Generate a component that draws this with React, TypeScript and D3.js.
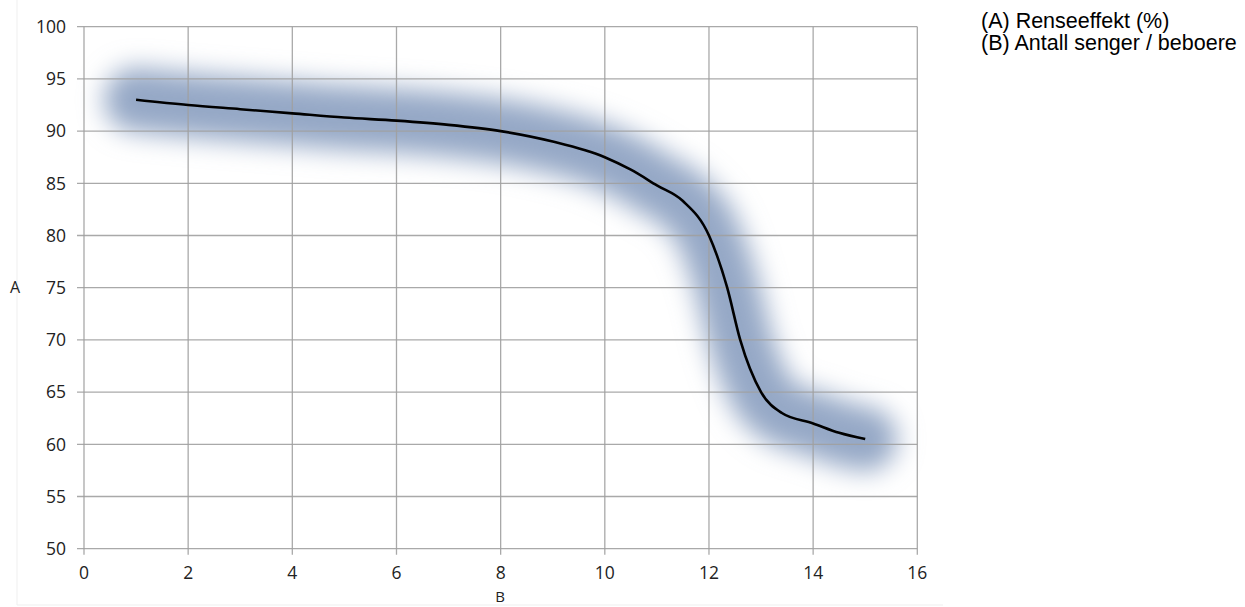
import React from "react";
import * as d3 from "d3";

const xVals = [1, 2, 3, 4, 5, 6, 7, 8, 9, 10, 10.5, 11, 11.5, 12, 12.35, 12.6, 13, 13.4, 14, 14.5, 15];
const yVals = [93, 92.5, 92.1, 91.7, 91.3, 91, 90.6, 90, 89, 87.5, 86.3, 84.8, 83.3, 80, 75, 70, 65, 63, 62, 61.1, 60.5];
const xTicks = [0, 2, 4, 6, 8, 10, 12, 14, 16];
const yTicks = [50, 55, 60, 65, 70, 75, 80, 85, 90, 95, 100];
const legendLines = ["(A) Renseeffekt (%)", "(B) Antall senger / beboere"];
const xLabel = "B";
const yLabel = "A";

export default function App() {
  const W = 1245, H = 607;
  const x = d3.scaleLinear().domain([0, 16]).range([84, 917.3]);
  const y = d3.scaleLinear().domain([50, 100]).range([548.7, 26.7]);
  const pts: [number, number][] = xVals.map((v, i) => [v, yVals[i]]);
  const line = d3.line<[number, number]>().x(d => x(d[0])).y(d => y(d[1])).curve(d3.curveMonotoneX);
  const path = line(pts) || "";
  const grid = "#a0a0a0";
  const font = "'Open Sans', sans-serif";
  return (
    <svg width={W} height={H} style={{ position: "absolute", left: 0, top: 0 }}>
      <defs>
        <filter id="glow" x="-20%" y="-30%" width="140%" height="160%">
          <feGaussianBlur stdDeviation="13" />
        </filter>
      </defs>
      <rect x={0} y={0} width={W} height={H} fill="#fff" />
      <line x1={17} x2={17} y1={0} y2={605} stroke="#efefef" />
      <line x1={17} x2={943} y1={605} y2={605} stroke="#efefef" />
      <path d={path} fill="none" stroke="#95a8c6" strokeWidth={64} strokeLinecap="round" strokeLinejoin="round" filter="url(#glow)" />
      {yTicks.map(t => (
        <g key={"y" + t}>
          <line x1={77} x2={x(16)} y1={y(t)} y2={y(t)} stroke={grid} strokeOpacity={0.9} strokeWidth={1.3} />
          <text x={66} y={y(t)} dy="0.36em" textAnchor="end" fontFamily={font} fontSize={17.5} fill="#222">{t}</text>
        </g>
      ))}
      {xTicks.map(t => (
        <g key={"x" + t}>
          <line x1={x(t)} x2={x(t)} y1={y(100)} y2={y(50) + 6} stroke={grid} strokeOpacity={0.9} strokeWidth={1.3} />
          <text x={x(t)} y={y(50) + 30} textAnchor="middle" fontFamily={font} fontSize={17.5} fill="#222">{t}</text>
        </g>
      ))}
      <path d={path} fill="none" stroke="#000" strokeWidth={2.6} />
      <text x={500} y={602} textAnchor="middle" fontFamily={font} fontSize={15} fill="#222">{xLabel}</text>
      <text x={15} y={y(75)} dy="0.36em" textAnchor="middle" fontFamily={font} fontSize={16} fill="#222">{yLabel}</text>
      {legendLines.map((s, i) => (
        <text key={s} x={981} y={28 + i * 22} fontFamily="'Liberation Sans', Arial, sans-serif" fontSize={21.5} fill="#000">{s}</text>
      ))}
    </svg>
  );
}
